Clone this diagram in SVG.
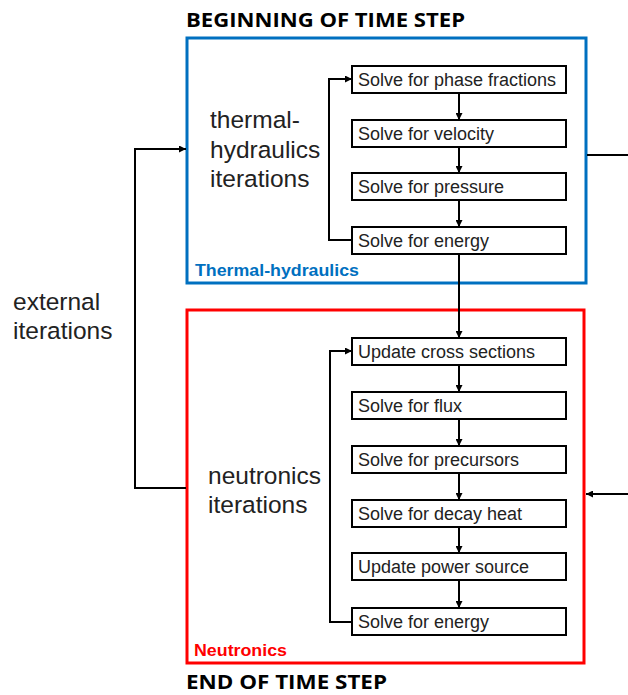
<svg xmlns="http://www.w3.org/2000/svg" width="628" height="695" viewBox="0 0 628 695">
<defs>
<marker id="ah" viewBox="0 0 10 10" refX="10" refY="5" markerWidth="7" markerHeight="7" markerUnits="userSpaceOnUse" orient="auto">
<path d="M0,0 L10,5 L0,10 z" fill="#000"/>
</marker>
<style>
.node rect{fill:#fff;stroke:#000;stroke-width:2}
.node text{font-family:"Liberation Sans",Arial,sans-serif;font-size:18px;fill:#222}
.big{font-family:"Liberation Sans",Arial,sans-serif;font-size:24.5px;fill:#222}
.head{font-family:"Open Sans","Liberation Sans",sans-serif;font-size:19px;font-weight:700;fill:#000}
.lab{font-family:"Liberation Sans",Arial,sans-serif;font-size:16px;font-weight:700}
.conn path{fill:none;stroke:#000;stroke-width:2}
</style>
</defs>
<rect width="628" height="695" fill="#fff"/>
<text class="head" x="186" y="27" textLength="279" lengthAdjust="spacingAndGlyphs">BEGINNING OF TIME STEP</text>
<text class="head" x="186" y="689" textLength="201" lengthAdjust="spacingAndGlyphs">END OF TIME STEP</text>
<g id="th-group">
<rect x="187" y="38" width="399" height="245" fill="none" stroke="#0070C0" stroke-width="3"/>
<text class="lab" x="195" y="276" fill="#0070C0" textLength="164" lengthAdjust="spacingAndGlyphs">Thermal-hydraulics</text>
<text class="big" x="210" y="128">thermal-</text>
<text class="big" x="210" y="158">hydraulics</text>
<text class="big" x="210" y="187">iterations</text>
</g>
<g id="n-group">
<rect x="187" y="310" width="397" height="353" fill="none" stroke="#FF0000" stroke-width="3"/>
<text class="lab" x="194" y="656" fill="#FF0000" textLength="93" lengthAdjust="spacingAndGlyphs">Neutronics</text>
<text class="big" x="208" y="484">neutronics</text>
<text class="big" x="208" y="513">iterations</text>
</g>
<g id="ext-label">
<text class="big" x="13" y="310">external</text>
<text class="big" x="13" y="339">iterations</text>
</g>
<g class="conn" id="connectors">
<path d="M459,93 V120" marker-end="url(#ah)"/>
<path d="M459,147 V173" marker-end="url(#ah)"/>
<path d="M459,200 V227" marker-end="url(#ah)"/>
<path d="M459,254 V338" marker-end="url(#ah)"/>
<path d="M459,365 V392" marker-end="url(#ah)"/>
<path d="M459,419 V446" marker-end="url(#ah)"/>
<path d="M459,473 V500" marker-end="url(#ah)"/>
<path d="M459,527 V553" marker-end="url(#ah)"/>
<path d="M459,580 V608" marker-end="url(#ah)"/>
<path d="M352,240 H329 V79 H352" marker-end="url(#ah)"/>
<path d="M352,622 H330 V351 H352" marker-end="url(#ah)"/>
<path d="M186,488 H135 V149 H186" marker-end="url(#ah)"/>
<path d="M587,155 H628"/>
<path d="M628,494 H586" marker-end="url(#ah)"/>
</g>
<g id="n1" class="node"><rect x="352" y="66" width="214" height="27"/><text x="358" y="86">Solve for phase fractions</text></g>
<g id="n2" class="node"><rect x="352" y="120" width="214" height="27"/><text x="358" y="140">Solve for velocity</text></g>
<g id="n3" class="node"><rect x="352" y="173" width="214" height="27"/><text x="358" y="193">Solve for pressure</text></g>
<g id="n4" class="node"><rect x="352" y="227" width="214" height="27"/><text x="358" y="247">Solve for energy</text></g>
<g id="n5" class="node"><rect x="352" y="338" width="214" height="27"/><text x="358" y="358">Update cross sections</text></g>
<g id="n6" class="node"><rect x="352" y="392" width="214" height="27"/><text x="358" y="412">Solve for flux</text></g>
<g id="n7" class="node"><rect x="352" y="446" width="214" height="27"/><text x="358" y="466">Solve for precursors</text></g>
<g id="n8" class="node"><rect x="352" y="500" width="214" height="27"/><text x="358" y="520">Solve for decay heat</text></g>
<g id="n9" class="node"><rect x="352" y="553" width="214" height="27"/><text x="358" y="573">Update power source</text></g>
<g id="n10" class="node"><rect x="352" y="608" width="214" height="27"/><text x="358" y="628">Solve for energy</text></g>
</svg>
